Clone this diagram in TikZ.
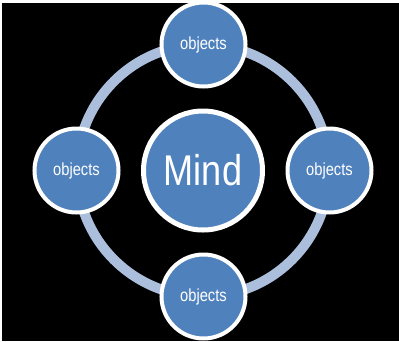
\documentclass[tikz,border=0pt]{standalone}
\usepackage{fontspec}
\setmainfont[FakeStretch=0.84]{Liberation Sans}
\newlength{\du}
\setlength{\du}{1\unitlength}
\definecolor{bubblefill}{rgb}{0.310000, 0.506000, 0.741000}
\definecolor{ringcolor}{rgb}{0.670000, 0.745000, 0.863000}
\tikzset{
  bubble/.style={circle, draw=white, fill=bubblefill, text=white, inner sep=0pt},
  smallbubble/.style={bubble, line width=4\du, minimum size=84\du, font=\fontsize{17.5}{19}\selectfont},
  mindbubble/.style={bubble, line width=5\du, minimum size=119\du, font=\fontsize{43}{47}\selectfont}
}
\begin{document}
\begin{tikzpicture}
\pgftransformxscale{1.000000}
\pgftransformyscale{-1.000000}
\useasboundingbox (0\du,0\du) rectangle (399\du,341\du);
% page and dark ground
\fill[white] (0\du,0\du) rectangle (399\du,341\du);
\fill[black] (2\du,3\du) rectangle (399\du,341\du);
% ring behind the bubbles
\coordinate (hub) at (203.000000\du,170.500000\du);
\draw[ringcolor, line width=10\du] (hub) circle (126\du);
% centre
\node[mindbubble] (mind) at (hub){Mind};
% outer bubbles
\node[smallbubble] (objtop) at (203.500000\du,44.500000\du){objects};
\node[smallbubble] (objright) at (329.500000\du,170.500000\du){objects};
\node[smallbubble] (objbottom) at (203.500000\du,296.500000\du){objects};
\node[smallbubble] (objleft) at (76.500000\du,170.500000\du){objects};
\end{tikzpicture}
\end{document}
